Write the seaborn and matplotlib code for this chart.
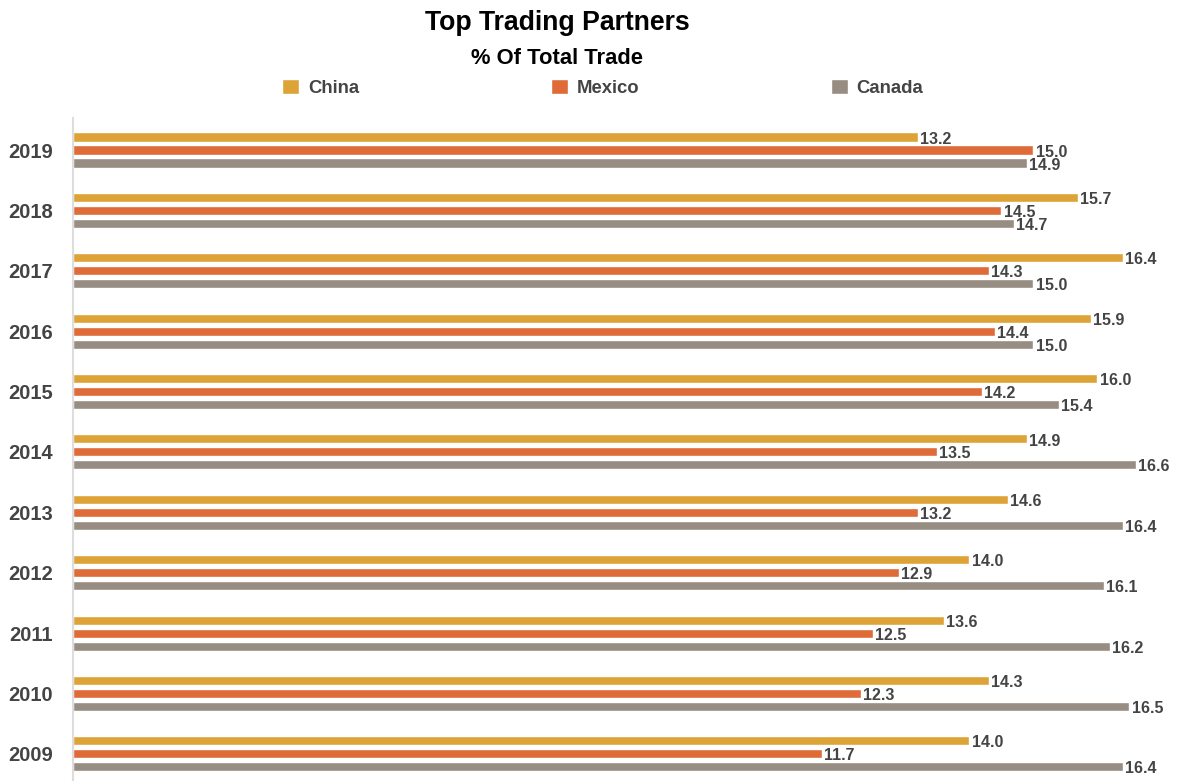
import matplotlib
matplotlib.use("Agg")
import matplotlib.pyplot as plt
import seaborn as sns
import pandas as pd

years = ["2019", "2018", "2017", "2016", "2015", "2014", "2013", "2012", "2011", "2010", "2009"]
countries = ["China", "Mexico", "Canada"]
china = [13.2, 15.7, 16.4, 15.9, 16.0, 14.9, 14.6, 14.0, 13.6, 14.3, 14.0]
mexico = [15.0, 14.5, 14.3, 14.4, 14.2, 13.5, 13.2, 12.9, 12.5, 12.3, 11.7]
canada = [14.9, 14.7, 15.0, 15.0, 15.4, 16.6, 16.4, 16.1, 16.2, 16.5, 16.4]
colors = ["#DDA337", "#DE6B38", "#978D82"]

rows = []
for series, name in zip([china, mexico, canada], countries):
    for y, v in zip(years, series):
        rows.append({"Year": y, "Country": name, "Value": v})
df = pd.DataFrame(rows)

sns.set_theme(style="white")
plt.rcParams["font.family"] = ["Liberation Sans", "DejaVu Sans"]

fig = plt.figure(figsize=(11.82, 7.81), dpi=100)
ax = fig.add_axes([73 / 1182, 0.0, 1 - 73 / 1182, 1 - 118 / 781])

sns.barplot(data=df, y="Year", x="Value", hue="Country", order=years,
            hue_order=countries, palette=colors, orient="h",
            width=0.645, gap=0.3, ax=ax, legend=True, errorbar=None,
            saturation=1)

for cont in ax.containers:
    for p in cont.patches:
        w = p.get_width()
        yc = p.get_y() + p.get_height() / 2
        ax.annotate(f"{w:.1f}", xy=(w, yc), xytext=(1.5, -1.5),
                    textcoords="offset points", ha="left", va="center",
                    fontsize=11.5, fontweight="bold", color="#444444")

ax.set_xlim(0, 17.32)
ax.set_ylim(10.45, -0.53)
ax.set_xlabel("")
ax.set_ylabel("")
ax.set_xticks([])
for s in ["top", "right", "bottom"]:
    ax.spines[s].set_visible(False)
ax.spines["left"].set_color("#dddddd")
ax.spines["left"].set_linewidth(1.5)
ax.tick_params(axis="y", length=0, pad=14.5)
for lbl in ax.get_yticklabels():
    lbl.set_fontsize(14.5)
    lbl.set_fontweight("bold")
    lbl.set_color("#444444")

handles, labels = ax.get_legend_handles_labels()
ax.get_legend().remove()
fig.legend(handles, labels, loc="center", bbox_to_anchor=(0.510, 1 - 88 / 781),
           ncol=3, frameon=False, columnspacing=10.4, handlelength=0.92,
           handleheight=0.92, handletextpad=0.45,
           prop={"weight": "bold", "size": 13.3}, labelcolor="#444444")

fig.text(557 / 1182, 1 - 23 / 781, "Top Trading Partners", ha="center", va="center",
         fontsize=19.2, fontweight="bold", color="black")
fig.text(557 / 1182, 1 - 59 / 781, "% Of Total Trade", ha="center", va="center",
         fontsize=15.8, fontweight="bold", color="black")

fig.savefig("out.png", dpi=100)
